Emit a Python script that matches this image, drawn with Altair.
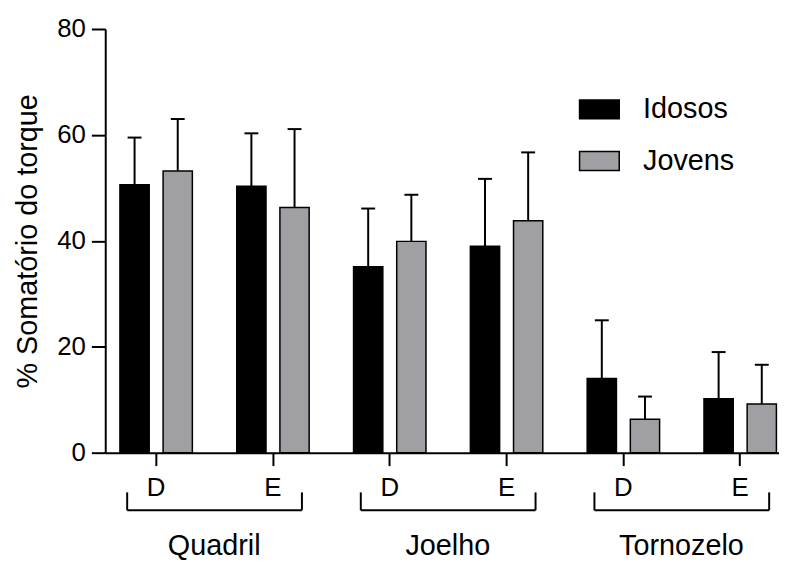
import altair as alt
import pandas as pd

# ---- data ----
groups = ["Quadril", "Quadril", "Joelho", "Joelho", "Tornozelo", "Tornozelo"]
sides = ["D", "E", "D", "E", "D", "E"]
series = ["Idosos", "Jovens"]
idosos_mean = [50.6, 50.3, 35.1, 39.0, 14.0, 10.2]
idosos_sd = [8.9, 10.0, 11.0, 12.7, 11.0, 8.8]
jovens_mean = [53.2, 46.3, 39.9, 43.8, 6.3, 9.2]
jovens_sd = [9.8, 14.8, 8.8, 12.9, 4.3, 7.4]
y_ticks = [0, 20, 40, 60, 80]
group_names = ["Quadril", "Joelho", "Tornozelo"]

keys = [f"{g}|{s}" for g, s in zip(groups, sides)]
rows = []
for i, k in enumerate(keys):
    rows.append(dict(key=k, serie="Idosos", mean=idosos_mean[i], sd=idosos_sd[i]))
    rows.append(dict(key=k, serie="Jovens", mean=jovens_mean[i], sd=jovens_sd[i]))
df = pd.DataFrame(rows)

br_rows = []
for g in group_names:
    ks = [k for k in keys if k.startswith(g + "|")]
    br_rows.append(dict(group=g, left=ks[0], right=ks[-1]))
bdf = pd.DataFrame(br_rows)

FONT = "Liberation Sans"
W, H = 679, 427

xscale = alt.Scale(domain=keys, paddingInner=0.38, paddingOuter=0.074, align=0.85)
xaxis = alt.Axis(
    title=None, labelExpr="split(datum.label, '|')[1]", labelAngle=0,
    tickSize=13, tickWidth=2, tickColor="black", domainWidth=2, domainColor="black",
    labelFontSize=26, labelPadding=9, labelColor="black", labelFont=FONT,
)
x = alt.X("key:N", scale=xscale, sort=keys, axis=xaxis)
xoff = alt.XOffset("serie:N", scale=alt.Scale(domain=series, paddingInner=0.322, paddingOuter=0))
yscale = alt.Scale(domain=[0, 80], nice=False)
yaxis = alt.Axis(
    values=y_ticks, title="% Somatório do torque", grid=False,
    tickSize=14, tickWidth=2, tickColor="black", domainWidth=2, domainColor="black",
    labelFontSize=26, labelPadding=6, labelColor="black", labelFont=FONT,
    titleFontSize=29, titleFontWeight="normal", titleFont=FONT, titleColor="black",
    titlePadding=14,
)
color = alt.Color(
    "serie:N",
    scale=alt.Scale(domain=series, range=["#000000", "#a0a0a4"]),
    legend=alt.Legend(
        orient="none", legendX=477, legendY=60, title=None, padding=0,
        symbolType="M-1,-0.475L1,-0.475L1,0.475L-1,0.475Z", symbolSize=1600,
        symbolStrokeColor="black", symbolStrokeWidth=1.5, symbolOpacity=1,
        labelFontSize=29, labelFont=FONT, labelColor="black", labelOffset=23,
        rowPadding=16,
    ),
)

base = alt.Chart(df)
bars = base.mark_bar(stroke="black", strokeWidth=1.5, opacity=1).encode(
    x=x, xOffset=xoff, y=alt.Y("mean:Q", scale=yscale, axis=yaxis), color=color
)
err = base.transform_calculate(upper="datum.mean + datum.sd").mark_rule(
    color="black", strokeWidth=2
).encode(x=x, xOffset=xoff, y=alt.Y("mean:Q", scale=yscale, axis=yaxis), y2="upper:Q")
cap = base.transform_calculate(upper="datum.mean + datum.sd").mark_tick(
    color="black", thickness=2, size=14, orient="horizontal", opacity=1
).encode(x=x, xOffset=xoff, y=alt.Y("upper:Q", scale=yscale, axis=yaxis))

bbase = alt.Chart(bdf)
hbar = bbase.mark_rule(color="black", strokeWidth=2).encode(
    x=alt.X("left:N", scale=xscale, axis=xaxis, bandPosition=0.1),
    x2=alt.X2("right:N", bandPosition=0.9),
    y=alt.value(485),
)
lend = bbase.mark_rule(color="black", strokeWidth=2).encode(
    x=alt.X("left:N", scale=xscale, axis=xaxis, bandPosition=0.1),
    y=alt.value(467), y2=alt.value(485),
)
rend = bbase.mark_rule(color="black", strokeWidth=2).encode(
    x=alt.X("right:N", scale=xscale, axis=xaxis, bandPosition=0.9),
    y=alt.value(467), y2=alt.value(485),
)
glabel = bbase.mark_text(fontSize=29, font=FONT, color="black", baseline="middle", align="center", dx=22).encode(
    x=alt.X("left:N", scale=xscale, axis=xaxis, bandPosition=1),
    y=alt.value(521),
    text="group:N",
)

chart = alt.layer(bars, err, cap, hbar, lend, rend, glabel).properties(
    width=W, height=H,
    autosize=alt.AutoSizeParams(type="none"),
    padding={"left": 98, "top": 19, "right": 0, "bottom": 108},
).configure_view(stroke=None)

chart.save("out.html", embed_options={"renderer": "svg", "actions": False})
